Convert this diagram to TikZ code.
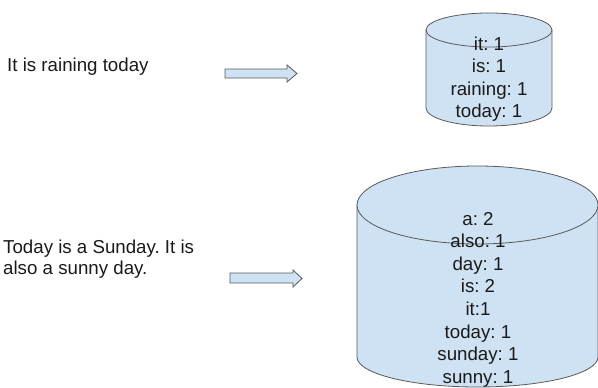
\documentclass[tikz,border=0pt]{standalone}
\usepackage{fontspec}
\setmainfont{Liberation Sans}
\frenchspacing
\definecolor{drumfill}{HTML}{CFE2F3}
\definecolor{drumline}{HTML}{595959}
\definecolor{inktext}{HTML}{1A1A1A}

\begin{document}
\begin{tikzpicture}[x=1pt, y=-1pt,
	every node/.style={font=\fontsize{18.7}{22}\selectfont, text=inktext, inner sep=0pt},
	drum/.style={fill=drumfill, draw=drumline, line width=0.8pt},
	fatarrow/.style={fill=drumfill, draw=drumline, line width=0.8pt, line join=miter}]
	\useasboundingbox (0,0) rectangle (598,388);
	\clip (0,0) rectangle (598,388);
	% sentences
	\node[anchor=base west] (sent1) at (7,71) {It is raining today};
	\node[anchor=base west] (sent2a) at (3,253) {Today is a Sunday. It is};
	\node[anchor=base west] (sent2b) at (3,274.5) {also a sunny day.};
	% arrows
	\draw[fatarrow] (225,69) -- (287,69) -- (287,65) -- (297,73.5) -- (287,82) -- (287,78) -- (225,78) -- cycle;
	\draw[fatarrow] (230,273) -- (293,273) -- (293,270) -- (302,278.5) -- (293,287) -- (293,283) -- (230,283) -- cycle;
	% small drum
	\filldraw[drum] (426,30) -- (426,108) arc[start angle=180, end angle=360, x radius=63pt, y radius=18pt] -- (552,30) -- cycle;
	\filldraw[drum] (489,30) ellipse[x radius=63pt, y radius=17pt];
	\foreach \w [count=\i] in {it: 1, is: 1, raining: 1, today: 1} {
		\node[anchor=base] (small-\i) at (489,{50+(\i-1)*22.5}) {\w};
	}
	% big drum
	\filldraw[drum] (357,205) -- (357,357) arc[start angle=180, end angle=360, x radius=120.5pt, y radius=30pt] -- (598,205) -- cycle;
	\filldraw[drum] (477.5,205) ellipse[x radius=120.5pt, y radius=39pt];
	\foreach \w [count=\i] in {a: 2, also: 1, day: 1, is: 2, it:1, today: 1, sunday: 1, sunny: 1} {
		\node[anchor=base] (big-\i) at (478,{225+(\i-1)*22.6}) {\w};
	}
\end{tikzpicture}
\end{document}
